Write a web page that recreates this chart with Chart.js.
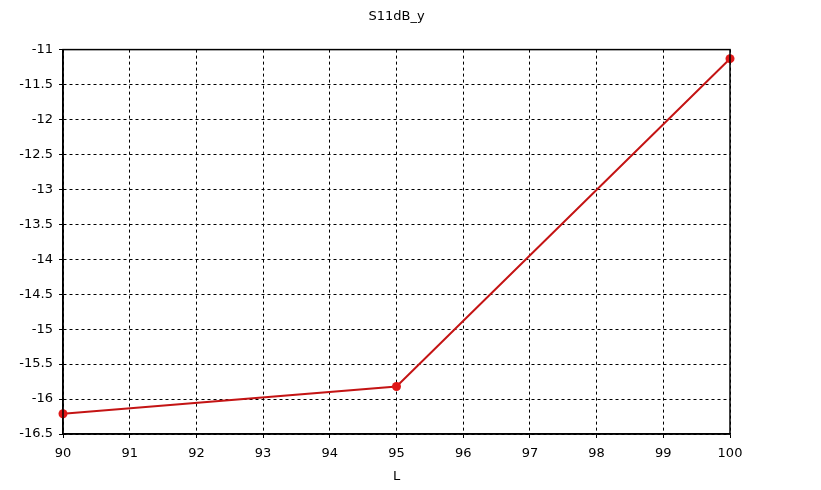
<!DOCTYPE html>
<html>
<head>
<meta charset="utf-8">
<script src="https://cdn.jsdelivr.net/npm/chart.js@4"></script>
<style>
html,body{margin:0;padding:0;background:#fff;}
#wrap{width:821px;height:490px;position:relative;}
</style>
</head>
<body>
<div id="wrap"><canvas id="c" width="821" height="490"></canvas></div>
<script>
const titleText = "S11dB_y";
const xTitle = "L";
const xValues = [90, 95, 100];
const yValues = [-16.21, -15.82, -11.13];
const xTicks = [90, 91, 92, 93, 94, 95, 96, 97, 98, 99, 100];
const yTicks = [-11, -11.5, -12, -12.5, -13, -13.5, -14, -14.5, -15, -15.5, -16, -16.5];

const FONT = "'DejaVu Sans', sans-serif";

const boxPlugin = {
  id: 'box',
  afterDraw(chart) {
    const a = chart.chartArea, ctx = chart.ctx;
    ctx.save();
    ctx.strokeStyle = '#000';
    ctx.lineWidth = 1.5;
    ctx.setLineDash([]);
    ctx.strokeRect(a.left, a.top, a.right - a.left, a.bottom - a.top);
    ctx.fillStyle = '#000';
    ctx.font = "13px " + FONT;
    ctx.textAlign = 'center';
    ctx.textBaseline = 'middle';
    ctx.fillText(titleText, (a.left + a.right) / 2, 17);
    ctx.restore();
  }
};

new Chart(document.getElementById('c'), {
  type: 'line',
  data: {
    datasets: [{
      data: xValues.map((x, i) => ({x: x, y: yValues[i]})),
      borderColor: '#c41414',
      borderWidth: 2,
      pointRadius: 4.5,
      pointBackgroundColor: '#e01818',
      pointBorderColor: '#e01818',
      pointBorderWidth: 0,
      tension: 0,
      clip: false
    }]
  },
  options: {
    responsive: false,
    animation: false,
    layout: {padding: {left: 0, right: 91, top: 0, bottom: 0}},
    plugins: {
      legend: {display: false},
      tooltip: {enabled: false},
      title: {
        display: true,
        text: titleText,
        color: 'rgba(0,0,0,0)',
        font: {family: FONT, size: 13, weight: 'normal'},
        padding: {top: 10, bottom: 24}
      }
    },
    scales: {
      x: {
        type: 'linear',
        min: 90, max: 100,
        afterBuildTicks(s) { s.ticks = xTicks.map(v => ({value: v})); },
        afterFit(s) { s.height = 56; },
        ticks: {color: '#000', font: {family: FONT, size: 13}, padding: 8, maxRotation: 0, autoSkip: false,
                callback: v => String(v)},
        grid: {color: '#000', lineWidth: 1, tickLength: 4, tickColor: '#000', tickBorderDash: [], drawTicks: true},
        border: {display: true, color: '#000', width: 1.5, dash: [3, 3]},
        title: {display: true, text: xTitle, color: '#000', font: {family: FONT, size: 13}, padding: {top: 2, bottom: 6}}
      },
      y: {
        type: 'linear',
        min: -16.5, max: -11,
        afterBuildTicks(s) { s.ticks = yTicks.slice().reverse().map(v => ({value: v})); },
        afterFit(s) { s.width = 63; },
        ticks: {color: '#000', font: {family: FONT, size: 13}, padding: 6, autoSkip: false,
                callback: v => String(v)},
        grid: {color: '#000', lineWidth: 1, tickLength: 4, tickColor: '#000', tickBorderDash: [], drawTicks: true},
        border: {display: true, color: '#000', width: 1.5, dash: [3, 3]}
      }
    }
  },
  plugins: [boxPlugin]
});
</script>
</body>
</html>
